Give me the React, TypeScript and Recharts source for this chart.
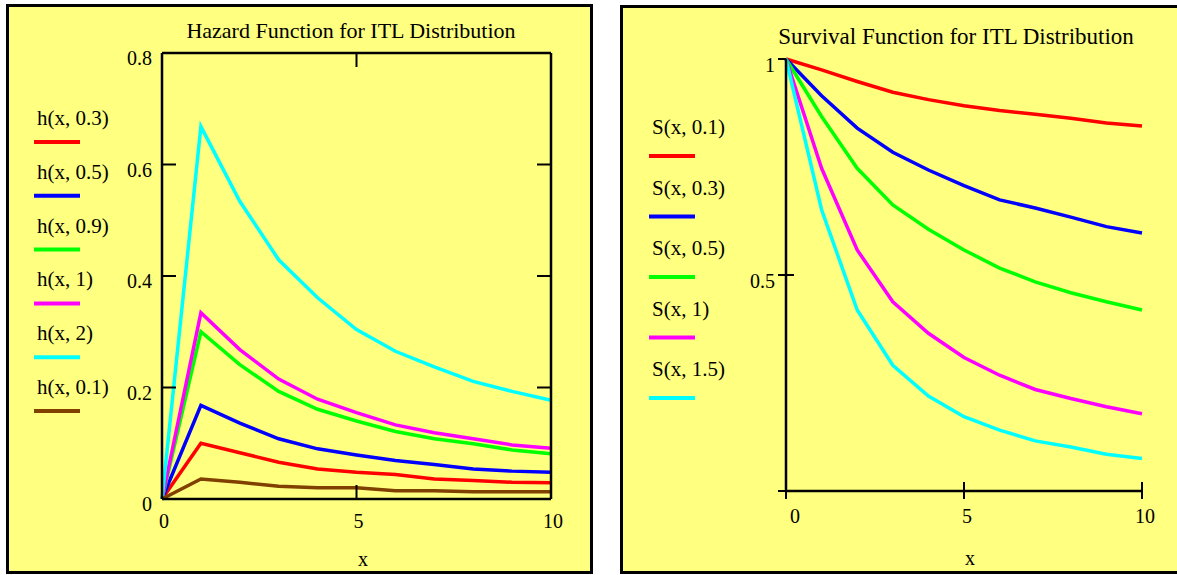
import React from 'react';
import { LineChart, Line, XAxis, YAxis } from 'recharts';

// x grid shared by both plots
const xs = [0, 1, 2, 3, 4, 5, 6, 7, 8, 9, 10];

// hazard curves h(x, theta)
const hazardNames = ['h(x, 0.3)', 'h(x, 0.5)', 'h(x, 0.9)', 'h(x, 1)', 'h(x, 2)', 'h(x, 0.1)'];
const hazardColors = ['#FF0000', '#0000FF', '#00FF00', '#FF00FF', '#00FFFF', '#804000'];
const h03 = [0, 0.1, 0.083, 0.066, 0.054, 0.048, 0.044, 0.036, 0.033, 0.03, 0.029];
const h05 = [0, 0.168, 0.136, 0.108, 0.09, 0.079, 0.069, 0.062, 0.054, 0.05, 0.048];
const h09 = [0, 0.3, 0.241, 0.193, 0.161, 0.14, 0.121, 0.108, 0.099, 0.088, 0.081];
const h1 = [0, 0.334, 0.268, 0.215, 0.179, 0.155, 0.133, 0.119, 0.108, 0.097, 0.091];
const h2 = [0, 0.668, 0.534, 0.429, 0.361, 0.304, 0.265, 0.237, 0.211, 0.193, 0.177];
const h01 = [0, 0.036, 0.03, 0.023, 0.02, 0.02, 0.015, 0.015, 0.013, 0.013, 0.013];
const hazardXTicks = [0, 5, 10];
const hazardYTicks = [0, 0.2, 0.4, 0.6, 0.8];

// survival curves S(x, theta)
const survivalNames = ['S(x, 0.1)', 'S(x, 0.3)', 'S(x, 0.5)', 'S(x, 1)', 'S(x, 1.5)'];
const survivalColors = ['#FF0000', '#0000FF', '#00FF00', '#FF00FF', '#00FFFF'];
const s01 = [1, 0.975, 0.948, 0.923, 0.906, 0.892, 0.881, 0.872, 0.863, 0.852, 0.845];
const s03 = [1, 0.915, 0.84, 0.784, 0.743, 0.707, 0.674, 0.655, 0.634, 0.612, 0.597];
const s05 = [1, 0.867, 0.747, 0.662, 0.606, 0.558, 0.516, 0.484, 0.459, 0.438, 0.419];
const s1 = [1, 0.747, 0.558, 0.438, 0.365, 0.309, 0.268, 0.235, 0.214, 0.195, 0.179];
const s15 = [1, 0.651, 0.419, 0.291, 0.22, 0.172, 0.141, 0.116, 0.102, 0.085, 0.075];
const survivalXTicks = [0, 5, 10];
const survivalYTicks = [0, 0.5, 1];

const hazardSeries = [h03, h05, h09, h1, h2, h01];
const survivalSeries = [s01, s03, s05, s1, s15];

const hazardData = xs.map((x, i) => {
  const row: Record<string, number> = { x };
  hazardSeries.forEach((s, k) => { row['h' + k] = s[i]; });
  return row;
});
const survivalData = xs.map((x, i) => {
  const row: Record<string, number> = { x };
  survivalSeries.forEach((s, k) => { row['s' + k] = s[i]; });
  return row;
});

const FONT = '"Liberation Serif", "Times New Roman", serif';
const YELLOW = '#FFFF80';
const TICK = 14;
const AXIS = { stroke: '#000', strokeWidth: 2.5 };

// ---- tick renderers (lines drawn inward like the original worksheet plot)
const HazBottomTick = (p: any) => (
  <g>
    <line x1={p.x} x2={p.x} y1={p.y} y2={p.y - TICK} stroke="#000" strokeWidth={2} />
    <text x={p.x + 2} y={p.y + 29} textAnchor="middle" fontSize={20} fontFamily={FONT} fill="#000">
      {p.payload.value}
    </text>
  </g>
);
const HazTopTick = (p: any) => (
  <line x1={p.x} x2={p.x} y1={p.y} y2={p.y + TICK} stroke="#000" strokeWidth={2} />
);
const HazLeftTick = (p: any) => (
  <g>
    <line x1={p.x} x2={p.x + TICK} y1={p.y} y2={p.y} stroke="#000" strokeWidth={2} />
    <text x={p.x - 10} y={p.y + 12} textAnchor="end" fontSize={20} fontFamily={FONT} fill="#000">
      {p.payload.value}
    </text>
  </g>
);
const HazRightTick = (p: any) => (
  <line x1={p.x} x2={p.x - TICK} y1={p.y} y2={p.y} stroke="#000" strokeWidth={2} />
);

const SurvBottomTick = (p: any) => (
  <g>
    <line x1={p.x} x2={p.x} y1={p.y - 9} y2={p.y + 8} stroke="#000" strokeWidth={2} />
    <text x={p.x + (p.payload.value === 0 ? 9 : 3)} y={p.y + 32} textAnchor="middle" fontSize={20} fontFamily={FONT} fill="#000">
      {p.payload.value}
    </text>
  </g>
);
const SurvLeftTick = (p: any) => (
  <g>
    <line x1={p.x - 8} x2={p.x + (p.payload.value === 1 ? 0 : 8)} y1={p.y} y2={p.y} stroke="#000" strokeWidth={2} />
    {p.payload.value !== 0 && (
      <text x={p.x - 11} y={p.y + 13} textAnchor="end" fontSize={20} fontFamily={FONT} fill="#000">
        {p.payload.value}
      </text>
    )}
  </g>
);

const Legend = ({ names, colors, x0, y0, step, textDy }: any) => (
  <g>
    {names.map((n: string, i: number) => (
      <g key={n}>
        <text x={x0 + 3} y={y0 + i * step - textDy} fontSize={21} fontFamily={FONT} fill="#000">{n}</text>
        <line x1={x0} x2={x0 + 46} y1={y0 + i * step} y2={y0 + i * step} stroke={colors[i]} strokeWidth={4} />
      </g>
    ))}
  </g>
);

export default function App() {
  return (
    <div style={{ position: 'absolute', left: 0, top: 0, width: 1177, height: 575, overflow: 'hidden', background: '#fff' }}>
      <div style={{ position: 'absolute', left: 6, top: 4, width: 587, height: 570, boxSizing: 'border-box', border: '3px solid #000', background: YELLOW }} />
      <div style={{ position: 'absolute', left: 620, top: 5, width: 600, height: 569, boxSizing: 'border-box', border: '3px solid #000', background: YELLOW }} />

      <div style={{ position: 'absolute', left: 0, top: 0 }}>
        <LineChart width={600} height={575} data={hazardData} margin={{ top: 33, right: 29, bottom: 36, left: 122 }}>
          <XAxis xAxisId="b" dataKey="x" type="number" domain={[0, 10]} ticks={hazardXTicks} interval={0}
            orientation="bottom" height={40} tickSize={0} tickMargin={0} tickLine={false} axisLine={AXIS} tick={<HazBottomTick />} />
          <XAxis xAxisId="t" dataKey="x" type="number" domain={[0, 10]} ticks={hazardXTicks} interval={0}
            orientation="top" height={20} tickSize={0} tickMargin={0} tickLine={false} axisLine={AXIS} tick={<HazTopTick />} />
          <YAxis yAxisId="l" type="number" domain={[0, 0.8]} ticks={hazardYTicks} interval={0}
            width={40} tickSize={0} tickMargin={0} tickLine={false} axisLine={AXIS} tick={<HazLeftTick />} />
          <YAxis yAxisId="r" orientation="right" type="number" domain={[0, 0.8]} ticks={hazardYTicks} interval={0}
            width={20} tickSize={0} tickMargin={0} tickLine={false} axisLine={AXIS} tick={<HazRightTick />} />
          {hazardNames.map((n, k) => (
            <Line key={n} xAxisId="b" yAxisId="l" dataKey={'h' + k} name={n} stroke={hazardColors[k]}
              strokeWidth={3.5} dot={false} type="linear" isAnimationActive={false} />
          ))}
          <Line xAxisId="t" yAxisId="r" dataKey="h4" stroke="none" dot={false} legendType="none" isAnimationActive={false} />
        </LineChart>
      </div>

      <div style={{ position: 'absolute', left: 600, top: 0 }}>
        <LineChart width={577} height={575} data={survivalData} margin={{ top: 59, right: 35, bottom: 44, left: 146 }}>
          <XAxis dataKey="x" type="number" domain={[0, 10]} ticks={survivalXTicks} interval={0}
            height={40} tickSize={0} tickMargin={0} tickLine={false} axisLine={AXIS} tick={<SurvBottomTick />} />
          <YAxis type="number" domain={[0, 1]} ticks={survivalYTicks} interval={0}
            width={40} tickSize={0} tickMargin={0} tickLine={false} axisLine={AXIS} tick={<SurvLeftTick />} />
          {survivalNames.map((n, k) => (
            <Line key={n} dataKey={'s' + k} name={n} stroke={survivalColors[k]}
              strokeWidth={3.5} dot={false} type="linear" isAnimationActive={false} />
          ))}
        </LineChart>
      </div>

      <svg width={1177} height={575} style={{ position: 'absolute', left: 0, top: 0, pointerEvents: 'none' }}>
        <text x={351} y={38} textAnchor="middle" fontSize={22} fontFamily={FONT} fill="#000">Hazard Function for ITL Distribution</text>
        <text x={956} y={44} textAnchor="middle" fontSize={23} fontFamily={FONT} fill="#000">Survival Function for ITL Distribution</text>
        <text x={363} y={566} textAnchor="middle" fontSize={20} fontFamily={FONT} fill="#000">x</text>
        <text x={970} y={565} textAnchor="middle" fontSize={20} fontFamily={FONT} fill="#000">x</text>
        <Legend names={hazardNames} colors={hazardColors} x0={34} y0={142} step={53.8} textDy={17} />
        <Legend names={survivalNames} colors={survivalColors} x0={649} y0={156} step={60.5} textDy={22} />
      </svg>
    </div>
  );
}
